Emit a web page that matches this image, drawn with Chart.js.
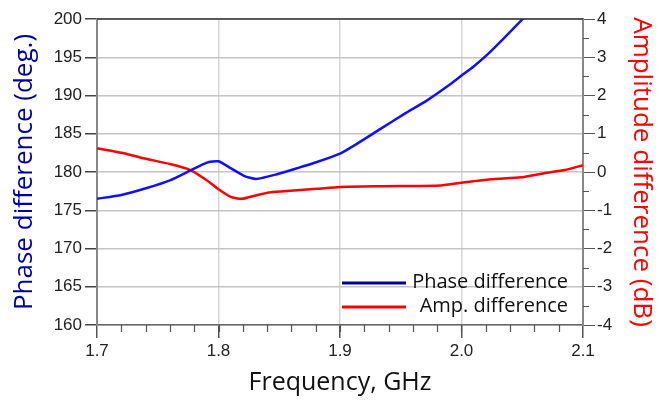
<!DOCTYPE html>
<html>
<head>
<meta charset="utf-8">
<script src="https://cdn.jsdelivr.net/npm/chart.js@4/dist/chart.umd.min.js"></script>
<style>
  html, body { margin: 0; padding: 0; background: #fff; }
  #wrap { width: 662px; height: 401px; position: relative; }
</style>
</head>
<body>
<div id="wrap"><canvas id="myChart"></canvas></div>
<script>
// phase difference (deg.) vs frequency (GHz)
const freqPhase = [1.700, 1.720, 1.741, 1.760, 1.777, 1.790, 1.800, 1.810, 1.821, 1.831, 1.848, 1.865, 1.881, 1.900, 1.912, 1.933, 1.953, 1.972, 1.991, 2.000, 2.010, 2.021, 2.035, 2.051, 2.060];
const phaseDeg  = [176.5, 177.0, 177.9, 178.9, 180.2, 181.2, 181.4, 180.5, 179.5, 179.1, 179.7, 180.5, 181.3, 182.4, 183.5, 185.6, 187.6, 189.4, 191.5, 192.6, 193.8, 195.3, 197.5, 200.1, 201.5];

// amplitude difference (dB) vs frequency (GHz)
const freqAmp = [1.700, 1.722, 1.738, 1.760, 1.777, 1.790, 1.800, 1.810, 1.819, 1.832, 1.843, 1.859, 1.881, 1.900, 1.936, 1.983, 2.000, 2.024, 2.049, 2.068, 2.085, 2.100];
const ampDb   = [0.62, 0.49, 0.36, 0.21, 0.05, -0.21, -0.45, -0.65, -0.70, -0.60, -0.53, -0.49, -0.44, -0.39, -0.37, -0.35, -0.28, -0.19, -0.14, -0.03, 0.05, 0.18];

const freqTicks = [1.7, 1.8, 1.9, 2.0, 2.1];
const seriesNames = ['Phase difference', 'Amp. difference'];

const tickFont = { family: 'Liberation Sans', size: 17 };
const titleFamily = 'Open Sans';

function toPoints(xs, ys) {
  let pts = [];
  for (let i = 0; i < xs.length; i++) pts.push({ x: xs[i], y: ys[i] });
  return pts;
}

// minor ticks, top border and the legend inside the plot
const extras = {
  id: 'extras',
  afterDraw(chart) {
    const ctx = chart.ctx;
    const a = chart.chartArea;
    const sx = chart.scales.x, sy2 = chart.scales.y2;
    ctx.save();
    ctx.strokeStyle = '#555';
    ctx.lineWidth = 1.2;
    ctx.beginPath();
    for (let v = 1.72; v < 2.1; v += 0.02) {
      const px = Math.round(sx.getPixelForValue(v)) + 0.5;
      ctx.moveTo(px, a.bottom);
      ctx.lineTo(px, a.bottom + 7);
    }
    for (let v = -3.5; v < 4; v += 1) {
      const py = Math.round(sy2.getPixelForValue(v)) + 0.5;
      ctx.moveTo(a.right, py);
      ctx.lineTo(a.right + 6, py);
    }
    ctx.stroke();

    ctx.strokeStyle = '#333';
    ctx.lineWidth = 1.5;
    ctx.beginPath();
    ctx.moveTo(a.left, a.top);
    ctx.lineTo(a.right, a.top);
    ctx.stroke();

    // legend
    const colors = ['#00009a', '#ff0000'];
    const rowY = [a.bottom - 42, a.bottom - 18];
    ctx.font = '20px ' + titleFamily;
    ctx.textAlign = 'right';
    ctx.textBaseline = 'middle';
    for (let i = 0; i < 2; i++) {
      ctx.strokeStyle = colors[i];
      ctx.lineWidth = 3;
      ctx.beginPath();
      ctx.moveTo(a.left + 245, rowY[i]);
      ctx.lineTo(a.left + 309, rowY[i]);
      ctx.stroke();
      ctx.fillStyle = '#111';
      ctx.fillText(seriesNames[i], a.right - 15, rowY[i] - 1);
    }
    ctx.restore();
  }
};

new Chart(document.getElementById('myChart'), {
  type: 'line',
  data: {
    datasets: [{
      label: seriesNames[0],
      data: toPoints(freqPhase, phaseDeg),
      yAxisID: 'y',
      borderColor: '#1010ff',
      borderWidth: 2.5,
      pointRadius: 0,
      tension: 0.2
    }, {
      label: seriesNames[1],
      data: toPoints(freqAmp, ampDb),
      yAxisID: 'y2',
      borderColor: '#ff0000',
      borderWidth: 2.5,
      pointRadius: 0,
      tension: 0.2
    }]
  },
  options: {
    responsive: true,
    maintainAspectRatio: false,
    animation: false,
    layout: { padding: { top: 19, left: 0, right: 0, bottom: 0 } },
    plugins: {
      legend: { display: false },
      tooltip: { enabled: false }
    },
    scales: {
      x: {
        type: 'linear',
        min: 1.7, max: 2.1,
        afterBuildTicks: (s) => { s.ticks = freqTicks.map(v => ({ value: v })); },
        afterFit: (s) => { s.height = 76; },
        ticks: { font: tickFont, color: '#222', padding: 3, maxRotation: 0, callback: (v) => v.toFixed(1) },
        grid: { color: '#d6d6d6', lineWidth: 1.5, tickLength: 13, tickColor: '#555' },
        border: { color: '#666', width: 1.5 },
        title: { display: true, text: 'Frequency, GHz', color: '#111', font: { family: titleFamily, size: 25 }, padding: { bottom: 3 } }
      },
      y: {
        position: 'left',
        min: 160, max: 200,
        ticks: { stepSize: 5, font: tickFont, color: '#222', padding: 3 },
        afterFit: (s) => { s.width = 97; },
        grid: { color: '#c4c4c4', lineWidth: 1.5, tickLength: 12, tickColor: '#444' },
        border: { color: '#888', width: 2 },
        title: { display: true, text: 'Phase difference (deg.)', color: '#0000a0', font: { family: titleFamily, size: 26 }, padding: { top: 9 } }
      },
      y2: {
        position: 'right',
        min: -4, max: 4,
        ticks: { stepSize: 1, font: tickFont, color: '#222', padding: 2 },
        afterFit: (s) => { s.width = 79; },
        grid: { drawOnChartArea: false, tickLength: 12, color: '#555' },
        border: { color: '#888', width: 2 },
        title: { display: true, text: 'Amplitude difference (dB)', color: '#ff0000', font: { family: titleFamily, size: 26 }, padding: { top: 5 } }
      }
    }
  },
  plugins: [extras]
});
</script>
</body>
</html>
